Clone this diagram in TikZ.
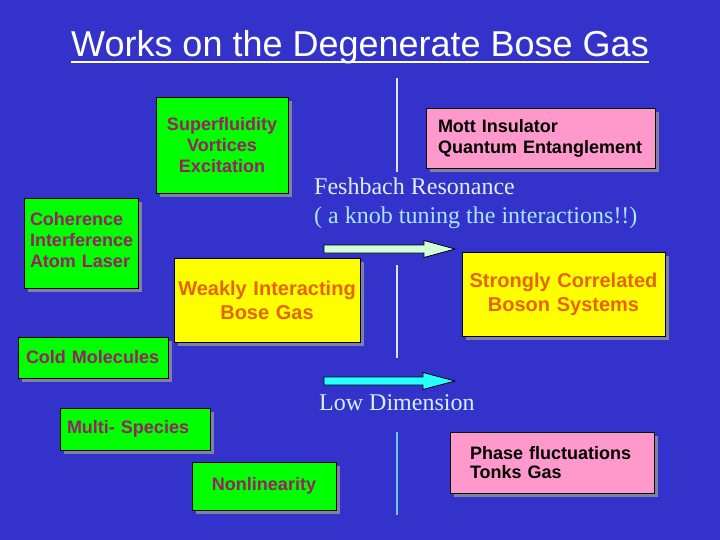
\documentclass[tikz,border=0pt]{standalone}
\usepackage{fontspec}
\setmainfont{Liberation Serif}
\setsansfont{Liberation Sans}
\usetikzlibrary{shadows}
\definecolor{slideblue}{RGB}{51,51,204}
\definecolor{panelgreen}{RGB}{0,255,0}
\definecolor{greentext}{RGB}{153,32,102}
\definecolor{panelyellow}{RGB}{255,255,0}
\definecolor{yellowtext}{RGB}{230,100,0}
\definecolor{panelpink}{RGB}{255,153,204}
\definecolor{shadowgray}{RGB}{128,128,160}
\definecolor{paleline}{RGB}{225,228,245}
\definecolor{cyanline}{RGB}{110,200,230}
\definecolor{feshwhite}{RGB}{225,238,240}
\definecolor{feshcyan}{RGB}{170,230,255}
\definecolor{lowdimtext}{RGB}{210,240,255}
\definecolor{feshfill}{RGB}{210,255,215}
\definecolor{lowdimfill}{RGB}{40,255,255}
\begin{document}
\begin{tikzpicture}[x=1pt, y=-1pt,
    panel/.style={draw=black, line width=0.8pt, inner ysep=0pt,
        font=\sffamily\bfseries\fontsize{18}{21}\selectfont,
        general shadow={fill=shadowgray, shadow xshift=4pt, shadow yshift=-4pt}},
    greenpanel/.style={panel, fill=panelgreen, text=greentext},
    yellowpanel/.style={panel, fill=panelyellow, text=yellowtext,
        font=\sffamily\bfseries\fontsize{20}{24}\selectfont},
    pinkpanel/.style={panel, fill=panelpink, text=black},
    divider/.style={line width=1.2pt, color=paleline},
    blockarrow/.style={draw=black, line width=0.8pt}
]
\useasboundingbox (0,0) rectangle (720,540);
\fill[slideblue] (0,0) rectangle (720,540);

\node[anchor=base, inner sep=0pt, text=white, font=\sffamily\fontsize{36}{40}\selectfont]
    (title) at (360,57) {Works on the Degenerate Bose Gas};
\draw[white, line width=2pt] ([yshift=-5pt]title.base west) -- ([yshift=-5pt]title.base east);

\draw[divider] (397,78) -- (397,172);
\draw[divider] (397,265) -- (397,358);
\draw[divider, color=cyanline] (397,432) -- (397,515);

\node[greenpanel, minimum height=96pt, text width=120pt, inner xsep=6pt, align=center]
    (superfluid) at (222,145) {Superfluidity\\Vortices\\Excitation};
\node[pinkpanel, minimum height=60pt, text width=205pt, inner xsep=12pt, align=left]
    (mott) at (540.5,138) {Mott Insulator\\Quantum Entanglement};
\node[greenpanel, minimum height=90pt, text width=102pt, inner xsep=6pt, align=left]
    (coherence) at (81,243) {Coherence\\Interference\\Atom Laser\rule[-6pt]{0pt}{0pt}};
\node[yellowpanel, minimum height=84pt, text width=180pt, inner xsep=3pt, align=center]
    (weakly) at (267,300) {Weakly Interacting\\Bose Gas};
\node[yellowpanel, minimum height=84pt, text width=191pt, inner xsep=6pt, align=center]
    (strongly) at (563.5,294) {Strongly Correlated\\Boson Systems};
\node[greenpanel, minimum height=41pt, text width=134pt, inner xsep=8pt, align=left]
    (coldmol) at (93,357.5) {Cold Molecules};
\node[greenpanel, minimum height=42pt, text width=136pt, inner xsep=7pt, align=left]
    (multi) at (135,429) {Multi- Species};
\node[greenpanel, minimum height=48pt, text width=132pt, inner xsep=6pt, align=center]
    (nonlin) at (264,486) {Nonlinearity};
\node[pinkpanel, minimum height=61pt, text width=164pt, inner xsep=20pt, align=left,
    font=\sffamily\bfseries\fontsize{18}{19}\selectfont]
    (phase) at (552,462.5) {Phase fluctuations\\Tonks Gas};

\node[anchor=north west, inner sep=0pt, align=left, font=\fontsize{24}{29}\selectfont]
    (feshbach) at (314,178) {\color{feshwhite}Feshbach Resonance\\\color{feshcyan}( a knob tuning the interactions!!)};
\draw[blockarrow, fill=feshfill] (324,245) -- (424,245) -- (424,240.5) -- (455,249)
    -- (424,257.5) -- (424,253) -- (324,253) -- cycle;

\draw[blockarrow, fill=lowdimfill] (324,377) -- (423,377) -- (423,372.5) -- (455,381)
    -- (423,389.5) -- (423,385) -- (324,385) -- cycle;
\node[anchor=base west, inner sep=0pt, text=lowdimtext, font=\fontsize{24}{29}\selectfont]
    (lowdim) at (319,410) {Low Dimension};
\end{tikzpicture}
\end{document}
